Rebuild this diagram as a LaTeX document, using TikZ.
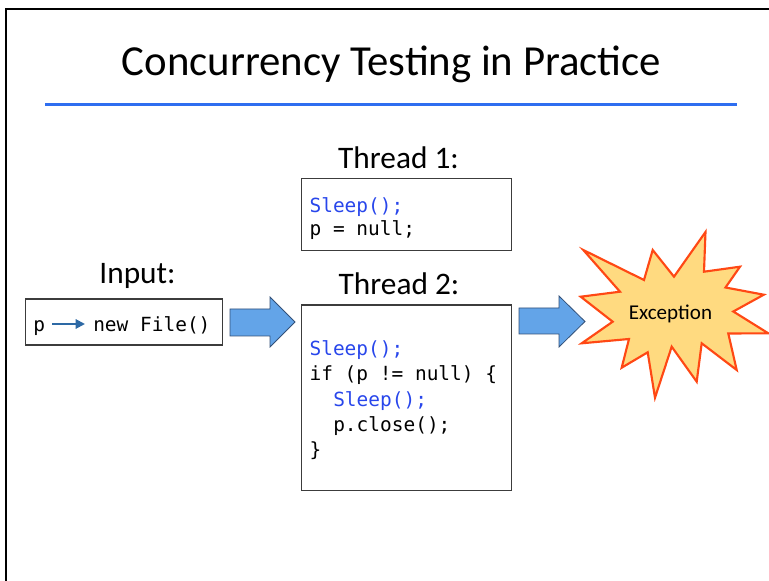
\documentclass[tikz,border=0pt]{standalone}
\usepackage{fontspec}
\setmainfont{Carlito}
\newfontfamily\codefont{DejaVu Sans Mono}
\usetikzlibrary{arrows.meta}
\definecolor{codeblue}{RGB}{40,70,235}
\definecolor{rulerblue}{RGB}{46,110,240}
\definecolor{blockfill}{RGB}{99,164,232}
\definecolor{blockdraw}{RGB}{50,80,120}
\definecolor{starfill}{RGB}{255,218,128}
\definecolor{stardraw}{RGB}{255,72,20}
\definecolor{inarrowc}{RGB}{45,105,165}
\definecolor{boxdraw}{RGB}{60,60,60}
\tikzset{
  codebox/.style={draw=boxdraw, line width=1.1pt, inner sep=0pt},
  code/.style={font=\codefont\fontsize{14.6}{18}\selectfont, anchor=base west, inner sep=0pt},
  bluecode/.style={code, text=codeblue},
  label/.style={font=\fontsize{23.5}{26}\selectfont, anchor=base, inner sep=0pt},
  blockarrow/.style={fill=blockfill, draw=blockdraw, line width=0.6pt, line join=miter},
  burst/.style={fill=starfill, draw=stardraw, line width=1.6pt, line join=miter},
  inarrow/.style={draw=inarrowc, line width=1.5pt, -{Triangle[length=7pt,width=7pt]}}
}
\begin{document}
\begin{tikzpicture}[x=0.75pt,y=-0.75pt]
\useasboundingbox (0,0) rectangle (769,581);
% slide frame
\draw[line width=1.8pt, line cap=rect] (6,590) -- (6,9) -- (780,9);
% title
\node[font=\fontsize{32.1}{36}\selectfont, anchor=base, inner sep=0pt] (title) at (391.5,76) {Concurrency Testing in Practice};
\draw[rulerblue, line width=1.9pt] (45,104.5) coordinate (r1) -- (737,104.5) coordinate (r2);
% labels
\node[label] (lt1) at (398.5,168.5) {Thread 1:};
\node[label] (lt2) at (399,295) {Thread 2:};
\node[label] (lin) at (137.5,283.5) {Input:};
% boxes
\node[codebox, minimum width=157.7pt, minimum height=54.3pt] (t1) at (406.6,214.5) {};
\node[codebox, minimum width=157.7pt, minimum height=139.3pt] (t2) at (406.6,397.8) {};
\node[codebox, minimum width=147.6pt, minimum height=34.5pt] (in) at (123.9,322) {};
% thread 1 code
\node[bluecode] (c11) at (309.3,212.3) {Sleep();};
\node[code] (c12) at (309.3,235.5) {p = null;};
% thread 2 code
\node[bluecode] (c21) at (309.3,355.5) {Sleep();};
\node[code] (c22) at (309.3,381) {if (p != null) \{};
\node[bluecode] (c23) at (333,406.5) {Sleep();};
\node[code] (c24) at (333,431.7) {p.close();};
\node[code] (c25) at (309.3,457) {\}};
% input content
\node[code] (p) at (33,331.5) {p};
\node[code] (nf) at (93,331.5) {new File()};
\draw[inarrow] ([shift={(7,-7.5)}]p.base east) -- ([shift={(-8,-7.5)}]nf.base west);
% block arrows
\draw[blockarrow] (230,309) -- (270,309) -- (270,297) -- (295,322) -- (270,347) -- (270,336) -- (230,336) -- cycle;
\draw[blockarrow] (519,308) -- (559,308) -- (559,296) -- (585,321.5) -- (559,347) -- (559,334) -- (519,334) -- cycle;
% explosion
\draw[burst] (583.3,250) -- (644,280) -- (652.7,250) -- (674,276.7) -- (705.5,232) -- (704,271.7) -- (740,266.7) -- (725.5,287.5) -- (763.8,294.7) -- (733.3,311.5) -- (768.3,333.3) -- (728.3,333.5) -- (736.7,370) -- (701.7,343.3) -- (696.7,381.7) -- (671.7,346.7) -- (655,397.7) -- (647.7,352.3) -- (621.7,367.7) -- (629,339) -- (581.7,343.3) -- (612.7,321.7) -- (580.7,296.7) -- (620,291.7) -- cycle;
\node[font=\fontsize{15.8}{17}\selectfont, anchor=base, inner sep=0pt] (exc) at (670.5,319.3) {Exception};
\end{tikzpicture}
\end{document}
